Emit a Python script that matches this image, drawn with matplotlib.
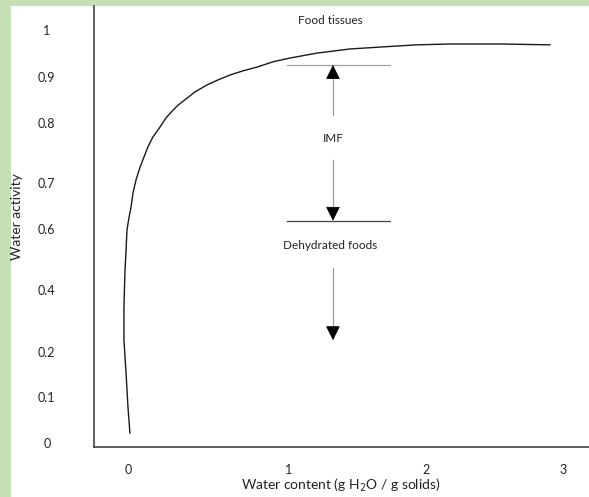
import matplotlib
matplotlib.use("Agg")
import matplotlib.pyplot as plt
from matplotlib.patches import Rectangle

plt.rcParams['font.family'] = ['Lato', 'DejaVu Sans']

# ---- data (schematic sorption isotherm) ----
curve_x = [0.012, 0.0, -0.012, -0.025, -0.025, -0.019, -0.012, -0.006, 0.006, 0.019,
           0.031, 0.050, 0.075, 0.099, 0.124, 0.155, 0.199, 0.236, 0.280, 0.311,
           0.354, 0.416, 0.491, 0.559, 0.634, 0.714, 0.801, 0.901, 1.006, 1.174,
           1.379, 1.584, 1.795, 2.0, 2.311, 2.621]
curve_y = [0.024, 0.087, 0.169, 0.249, 0.329, 0.412, 0.467, 0.516, 0.545, 0.571,
           0.605, 0.637, 0.668, 0.692, 0.717, 0.741, 0.765, 0.787, 0.806, 0.818,
           0.831, 0.850, 0.867, 0.879, 0.891, 0.901, 0.910, 0.923, 0.932, 0.944,
           0.954, 0.959, 0.964, 0.966, 0.966, 0.964]

xtick_pos = [0, 1, 1.851, 2.702]
xtick_labels = ['0', '1', '2', '3']
ytick_pos = [0, 0.111, 0.220, 0.370, 0.518, 0.630, 0.775, 0.886, 1.0]
ytick_labels = ['0', '0.1', '0.2', '0.4', '0.6', '0.7', '0.8', '0.9', '1']

imf_upper = 0.915
imf_lower = 0.538
imf_x_range = [0.988, 1.627]
arrow_x = 1.273
arrows = [  # (start_y, tip_y)
    (0.794, 0.915),
    (0.685, 0.538),
    (0.424, 0.249),
]
annotations = [
    ('Food tissues', 1.255, 1.024),
    ('IMF', 1.273, 0.736),
    ('Dehydrated foods', 1.255, 0.477),
]

W, H = 589, 497
fig = plt.figure(figsize=(W / 100, H / 100), dpi=100)
fig.patch.set_facecolor('#c5e0b4')
bg = Rectangle((11 / W, 0), 1 - 11 / W, (H - 6) / H,
               transform=fig.transFigure, facecolor='white',
               edgecolor='none', zorder=-10)
fig.add_artist(bg)

ax = fig.add_axes([94 / W, 50 / H, (W - 94) / W, 441 / H])
ax.set_zorder(5)
ax.set_facecolor('none')

ax.plot(curve_x, curve_y, color='#1a1a1a', lw=1.0, solid_joinstyle='round')

# IMF boundaries
ax.plot(imf_x_range, [imf_upper, imf_upper], color='#a0a0a0', lw=0.9)
ax.plot(imf_x_range, [imf_lower, imf_lower], color='#444444', lw=0.9)

head = 0.032
for y0, y1 in arrows:
    sgn = 1 if y1 > y0 else -1
    ax.plot([arrow_x, arrow_x], [y0, y1 - sgn * head * 0.5], color='#9a9a9a', lw=0.9)
    ax.annotate('', xy=(arrow_x, y1), xytext=(arrow_x, y1 - sgn * head),
                arrowprops=dict(arrowstyle='-|>,head_length=0.9,head_width=0.45',
                                color='black', lw=0.6, shrinkA=0, shrinkB=0))

for txt, x, y in annotations:
    ax.text(x, y, txt, ha='center', va='center', fontsize=8.5, color='#222222')

ax.set_xlim(-0.211, 2.863)
ax.set_ylim(-0.0097, 1.058)

ax.set_xticks(xtick_pos)
ax.set_xticklabels(xtick_labels)
ax.set_yticks(ytick_pos)
ax.set_yticklabels(ytick_labels)
ax.tick_params(axis='both', length=0, labelsize=9, colors='#222222')
ax.tick_params(axis='x', pad=12.0)
ax.tick_params(axis='y', pad=34)
for lab in ax.get_yticklabels():
    lab.set_horizontalalignment('center')

for s in ['top', 'right']:
    ax.spines[s].set_visible(False)
for s in ['left', 'bottom']:
    ax.spines[s].set_color('#444444')
    ax.spines[s].set_linewidth(1.2)

ax.set_xlabel('Water content (g H$_2$O / g solids)', fontsize=10, color='#222222')
ax.set_ylabel('Water activity', fontsize=10, color='#222222')
ax.xaxis.set_label_coords((341 - 94) / 495, (447 - 485) / 441)
ax.yaxis.set_label_coords((17 - 94) / 495, (447 - 217) / 441)
ax.xaxis.label.set_va('center')
ax.yaxis.label.set_va('center')

fig.savefig('out.png', dpi=100, facecolor=fig.get_facecolor())
